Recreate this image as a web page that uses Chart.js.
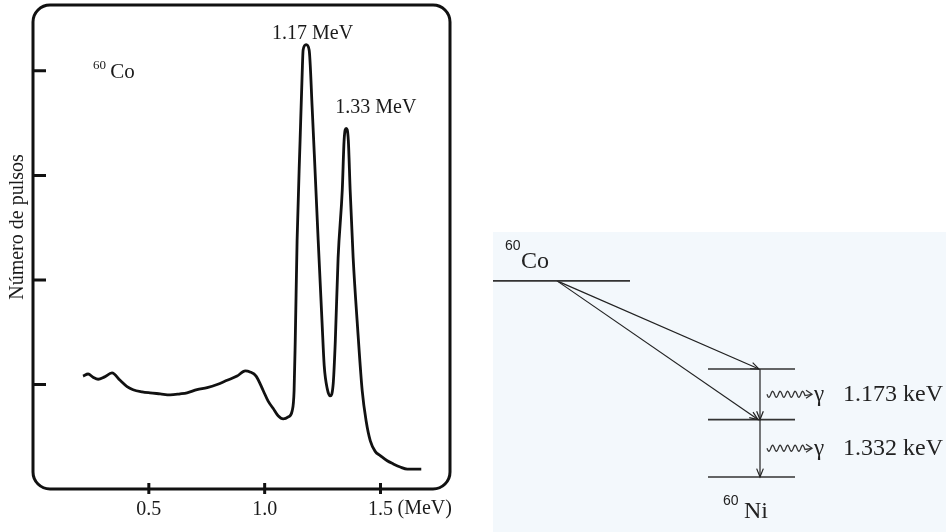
<!DOCTYPE html>
<html lang="pt">
<head>
<meta charset="utf-8">
<title>Espectro gama do 60Co</title>
<script src="https://cdn.jsdelivr.net/npm/chart.js@4.4.0/dist/chart.umd.min.js"></script>
<style>
  html, body { margin: 0; padding: 0; background: #fff; }
  body { width: 946px; height: 532px; position: relative; overflow: hidden; }
  #espectro { position: absolute; left: 0; top: 0; }
  #esquema { position: absolute; left: 493px; top: 232px; background: #f3f8fc; }
</style>
</head>
<body>
<canvas id="espectro" width="470" height="532"></canvas>
<canvas id="esquema" width="453" height="300"></canvas>
<script>
// ============================= DADOS DO ESPECTRO =============================
const energia = [0.216, 0.238, 0.259, 0.281, 0.307, 0.341, 0.376, 0.406, 0.432, 0.471,
    0.505, 0.549, 0.592, 0.635, 0.665, 0.708, 0.752, 0.795, 0.838, 0.881,
    0.916, 0.937, 0.963, 0.994, 1.015, 1.037, 1.058, 1.080, 1.102, 1.119,
    1.127, 1.132, 1.140, 1.153, 1.162, 1.166, 1.179, 1.192, 1.205, 1.218,
    1.231, 1.248, 1.257, 1.270, 1.283, 1.296, 1.305, 1.317, 1.335, 1.343,
    1.352, 1.361, 1.369, 1.382, 1.400, 1.421, 1.438, 1.456, 1.477, 1.499,
    1.529, 1.555, 1.585, 1.616, 1.676]
const pulsos = [1.08, 1.10, 1.07, 1.05, 1.07, 1.11, 1.04, 0.98, 0.95, 0.93,
    0.92, 0.91, 0.90, 0.91, 0.92, 0.95, 0.97, 1.00, 1.04, 1.08,
    1.13, 1.12, 1.08, 0.94, 0.84, 0.77, 0.70, 0.67, 0.69, 0.75,
    0.94, 1.42, 2.38, 3.34, 3.98, 4.20, 4.25, 4.20, 3.65, 3.02,
    2.38, 1.58, 1.18, 0.96, 0.89, 1.01, 1.42, 2.21, 2.86, 3.34,
    3.45, 3.34, 2.86, 2.21, 1.58, 0.94, 0.65, 0.46, 0.36, 0.32,
    0.27, 0.24, 0.21, 0.19, 0.19]
const ticksX = [0.5, 1.0, 1.5]
const ticksY = [1, 2, 3, 4]
const picoTextos = ['1.17 MeV', '1.33 MeV']
const picoTextoX = [1.032, 1.305]
const picoTextoY = [4.30, 3.60]

// ============================= DADOS DO ESQUEMA =============================
const niveisE = [4550, 2505, 1332, 0]        // keV (o nível do Co é só posição no desenho)
const gamaTextos = ['1.173 keV', '1.332 keV']

const serif = '"Liberation Serif", "Times New Roman", serif'
const sans = '"Liberation Sans", Arial, sans-serif'

// ============================= ESPECTRO =============================
const moldura = {
    id: 'moldura',
    afterDraw(chart) {
        const {ctx, chartArea: a, scales: {x, y}} = chart
        ctx.save()
        ctx.strokeStyle = '#111'
        ctx.lineWidth = 3
        const r = 17
        ctx.beginPath()
        ctx.moveTo(a.left + r, a.top)
        ctx.arcTo(a.right, a.top, a.right, a.bottom, r)
        ctx.arcTo(a.right, a.bottom, a.left, a.bottom, r)
        ctx.arcTo(a.left, a.bottom, a.left, a.top, r)
        ctx.arcTo(a.left, a.top, a.right, a.top, r)
        ctx.closePath()
        ctx.stroke()

        ctx.beginPath()
        ticksX.forEach(v => {
            const px = x.getPixelForValue(v)
            ctx.moveTo(px, a.bottom - 6)
            ctx.lineTo(px, a.bottom + 5)
        })
        ticksY.forEach(v => {
            const py = y.getPixelForValue(v)
            ctx.moveTo(a.left, py)
            ctx.lineTo(a.left + 13, py)
        })
        ctx.stroke()

        ctx.fillStyle = '#1a1a1a'
        ctx.textBaseline = 'alphabetic'
        ctx.textAlign = 'left'
        ctx.font = '20px ' + serif
        picoTextos.forEach((t, i) => {
            ctx.fillText(t, x.getPixelForValue(picoTextoX[i]), y.getPixelForValue(picoTextoY[i]))
        })
        ctx.font = '13px ' + serif
        ctx.fillText('60', x.getPixelForValue(0.259), y.getPixelForValue(4.02))
        ctx.font = '21px ' + serif
        ctx.fillText('Co', x.getPixelForValue(0.333), y.getPixelForValue(3.93))

        ctx.font = '20px ' + serif
        ctx.textBaseline = 'middle'
        ctx.fillText('(MeV)', x.getPixelForValue(1.5) + 17, a.bottom + 20)

        ctx.translate(18, 227)
        ctx.rotate(-Math.PI / 2)
        ctx.textAlign = 'center'
        ctx.fillText('Número de pulsos', 0, 0)
        ctx.restore()
    }
}

new Chart(document.getElementById('espectro'), {
    type: 'scatter',
    data: {
        datasets: [{
            data: energia.map((e, i) => ({x: e, y: pulsos[i]})),
            showLine: true,
            borderColor: '#111',
            borderWidth: 2.8,
            pointRadius: 0,
            cubicInterpolationMode: 'monotone',
            clip: false
        }]
    },
    options: {
        responsive: false,
        animation: false,
        layout: {padding: {left: 33, top: 5, right: 20, bottom: 1}},
        plugins: {legend: {display: false}, tooltip: {enabled: false}},
        scales: {
            x: {
                type: 'linear',
                min: 0,
                max: 1.8,
                afterBuildTicks: s => { s.ticks = ticksX.map(v => ({value: v})) },
                grid: {display: false, drawTicks: false},
                border: {display: false},
                ticks: {
                    color: '#1a1a1a',
                    padding: 9,
                    font: {family: serif, size: 20},
                    callback: v => v.toFixed(1)
                }
            },
            y: {
                type: 'linear',
                min: 0,
                max: 4.63,
                display: false
            }
        }
    },
    plugins: [moldura]
});

// ============================= ESQUEMA DE DECAIMENTO =============================
const seta = (ctx, x0, y0, x1, y1) => {
    const ang = Math.atan2(y1 - y0, x1 - x0), L = 9, w = 0.38
    ctx.beginPath()
    ctx.moveTo(x1 - L * Math.cos(ang - w), y1 - L * Math.sin(ang - w))
    ctx.lineTo(x1, y1)
    ctx.lineTo(x1 - L * Math.cos(ang + w), y1 - L * Math.sin(ang + w))
    ctx.stroke()
}

const desenhoEsquema = {
    id: 'desenhoEsquema',
    afterDatasetsDraw(chart) {
        const {ctx, scales: {x, y}} = chart
        ctx.save()
        ctx.strokeStyle = '#222'
        ctx.lineWidth = 1.2
        chart.data.datasets.forEach((ds, i) => {
            if (!ds.seta) return
            const pts = chart.getDatasetMeta(i).data
            seta(ctx, pts[0].x, pts[0].y, pts[1].x, pts[1].y)
        })

        // fótons gama (linha ondulada + seta + texto)
        const xv = x.getPixelForValue(267)
        gamaTextos.forEach((t, i) => {
            const py = y.getPixelForValue((niveisE[i + 1] + niveisE[i + 2]) / 2)
            const x0 = xv + 7, x1 = xv + 52
            ctx.strokeStyle = '#333'
            ctx.lineWidth = 1.3
            ctx.beginPath()
            for (let px = x0; px <= x1 - 7; px += 0.5) {
                const yy = py + 3 * Math.sin((px - x0) / 7.5 * 2 * Math.PI)
                if (px === x0) ctx.moveTo(px, yy); else ctx.lineTo(px, yy)
            }
            ctx.lineTo(x1, py)
            ctx.stroke()
            ctx.beginPath()
            ctx.moveTo(x1 - 6, py - 4)
            ctx.lineTo(x1, py)
            ctx.lineTo(x1 - 6, py + 4)
            ctx.stroke()

            ctx.fillStyle = '#222'
            ctx.textBaseline = 'middle'
            ctx.textAlign = 'left'
            ctx.font = '23px ' + serif
            ctx.fillText('γ', x1 + 2, py + 1)
            ctx.font = '24px ' + serif
            ctx.fillText(t, x1 + 31, py)
        })

        ctx.fillStyle = '#222'
        ctx.textBaseline = 'alphabetic'
        ctx.font = '14px ' + sans
        ctx.fillText('60', x.getPixelForValue(12), y.getPixelForValue(niveisE[0]) - 31)
        ctx.fillText('60', x.getPixelForValue(230), y.getPixelForValue(niveisE[3]) + 28)
        ctx.font = '24px ' + serif
        ctx.fillText('Co', x.getPixelForValue(28), y.getPixelForValue(niveisE[0]) - 13)
        ctx.fillText('Ni', x.getPixelForValue(251), y.getPixelForValue(niveisE[3]) + 41)
        ctx.restore()
    }
}

const linha = (pts, seta) => ({
    data: pts,
    showLine: true,
    borderColor: seta ? '#222' : '#333',
    borderWidth: seta ? 1.2 : 1.6,
    pointRadius: 0,
    seta: seta,
    clip: false
})

new Chart(document.getElementById('esquema'), {
    type: 'scatter',
    data: {
        datasets: [
            linha([{x: 0, y: niveisE[0]}, {x: 137, y: niveisE[0]}], false),
            linha([{x: 215, y: niveisE[1]}, {x: 302, y: niveisE[1]}], false),
            linha([{x: 215, y: niveisE[2]}, {x: 302, y: niveisE[2]}], false),
            linha([{x: 215, y: niveisE[3]}, {x: 302, y: niveisE[3]}], false),
            linha([{x: 64, y: niveisE[0]}, {x: 266, y: niveisE[1]}], true),
            linha([{x: 64, y: niveisE[0]}, {x: 265, y: niveisE[2]}], true),
            linha([{x: 267, y: niveisE[1]}, {x: 267, y: niveisE[2]}], true),
            linha([{x: 267, y: niveisE[2]}, {x: 267, y: niveisE[3]}], true)
        ]
    },
    options: {
        responsive: false,
        animation: false,
        layout: {padding: 0},
        plugins: {legend: {display: false}, tooltip: {enabled: false}},
        scales: {
            x: {type: 'linear', min: 0, max: 453, display: false},
            y: {type: 'linear', min: -1276, max: 5684, display: false}
        }
    },
    plugins: [desenhoEsquema]
});
</script>
</body>
</html>
